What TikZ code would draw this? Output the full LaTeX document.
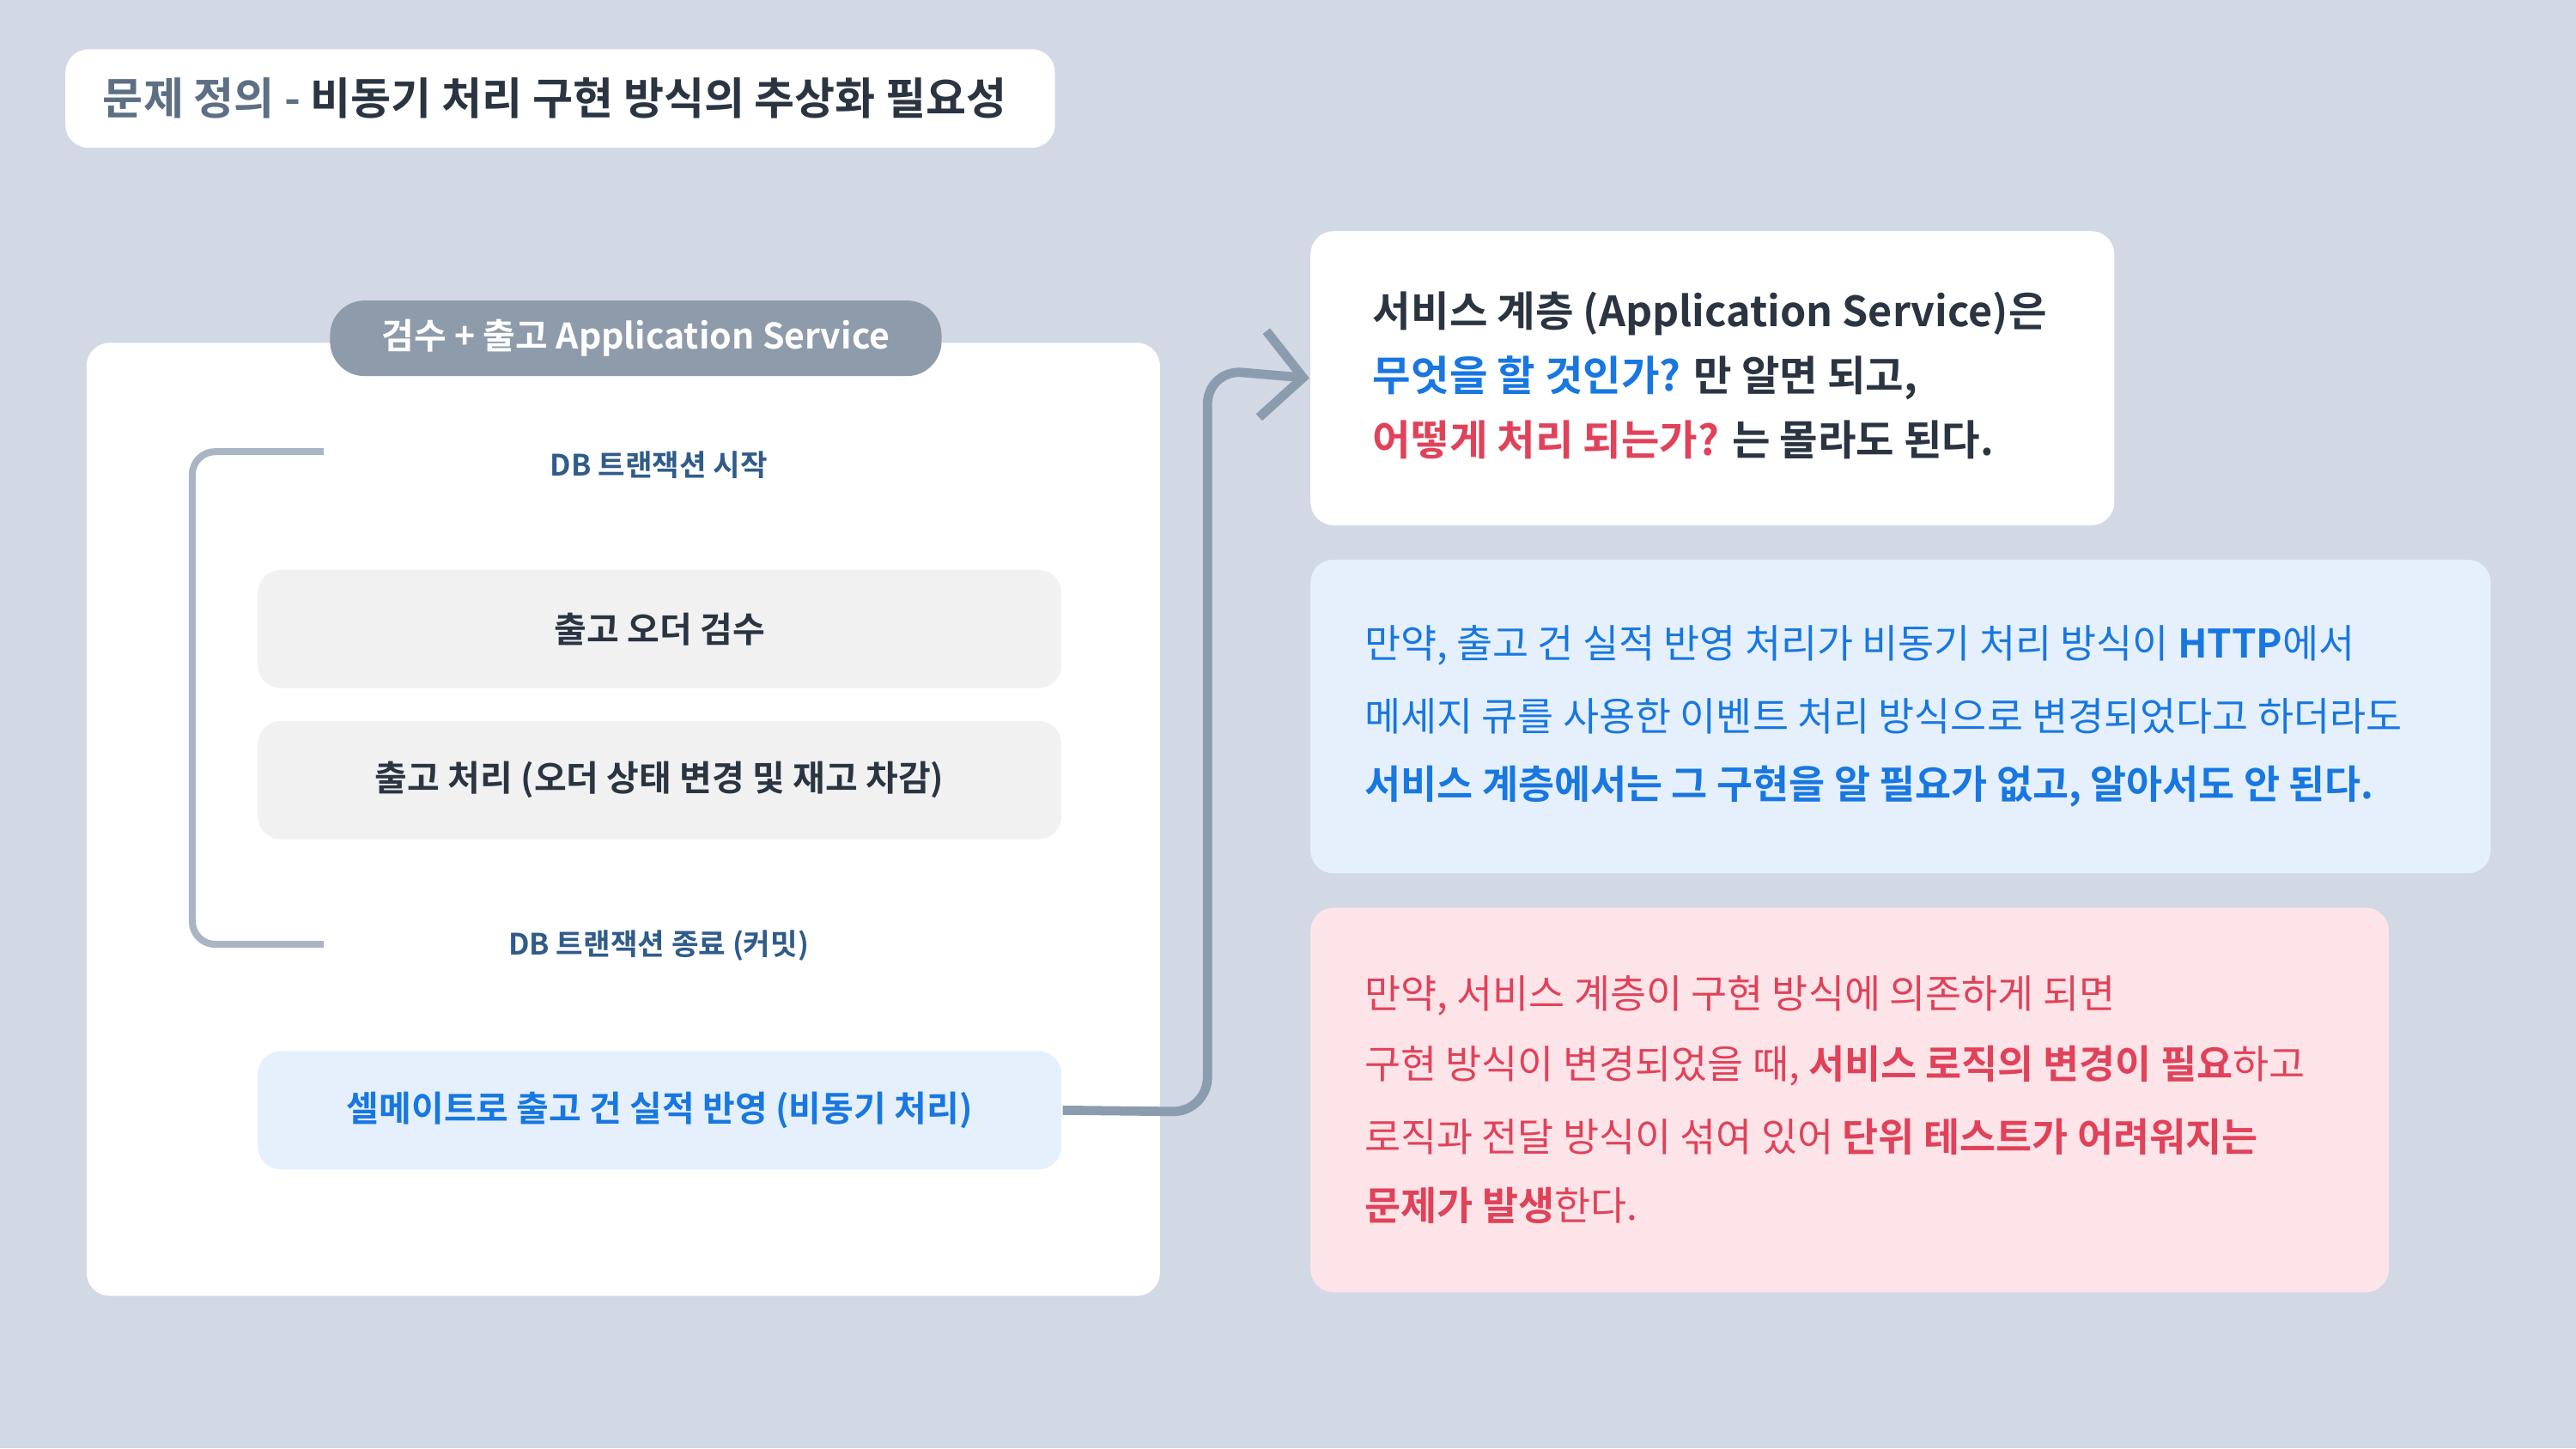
\documentclass[tikz,border=0pt]{standalone}
\usepackage{fontspec}
\setmainfont{Noto Sans CJK KR}[BoldFont={Noto Sans CJK KR Bold}]
\usetikzlibrary{arrows.meta}
\definecolor{bg}{HTML}{D3D8E5}
\definecolor{dark}{HTML}{2B3542}
\definecolor{greyb}{HTML}{5C6F84}
\definecolor{pill}{HTML}{8E9BAB}
\definecolor{brk}{HTML}{A9B5C4}
\definecolor{dbc}{HTML}{2F5C8A}
\definecolor{boxg}{HTML}{F1F1F2}
\definecolor{lblue}{HTML}{E5F0FC}
\definecolor{blu}{HTML}{1877E0}
\definecolor{lpink}{HTML}{FCE4E8}
\definecolor{redc}{HTML}{E0425A}
\definecolor{arr}{HTML}{8B9CAE}
\tikzset{
 card/.style={fill=white,rounded corners=4pt,draw=none},
 stepbox/.style={rounded corners=4pt,draw=none,minimum width=4.89cm,minimum height=0.72cm,font=\fontsize{6.1pt}{7pt}\bfseries\selectfont,text=dark},
 dblbl/.style={font=\fontsize{5.1pt}{6pt}\bfseries\selectfont,text=dbc},
 para/.style={anchor=west,inner sep=0pt,font=\fontsize{6.8pt}{8pt}\selectfont}
}
\begin{document}
\begin{tikzpicture}[x=0.01cm,y=-0.01cm]
\fill[bg] (0,0) rectangle (1568,882);
\useasboundingbox (0,0) rectangle (1568,882);
% title
\node[card,minimum width=6.02cm,minimum height=0.6cm] (title) at (341,60) {};
\node[anchor=west,inner sep=0pt,font=\fontsize{7.6pt}{8pt}\bfseries\selectfont] (titletxt) at (62,60) {\textcolor{greyb}{문제 정의 -} \textcolor{dark}{비동기 처리 구현 방식의 추상화 필요성}};
% left panel
\node[card,minimum width=6.53cm,minimum height=5.8cm,anchor=north west] (panel) at (52,208) {};
\node[fill=pill,rounded corners=6pt,minimum width=3.72cm,minimum height=0.45cm,text=white,font=\fontsize{6.1pt}{7pt}\bfseries\selectfont] (pilln) at (387,206) {검수 + 출고 Application Service};
\coordinate (b1) at (197,275);
\coordinate (b2) at (197,575);
\draw[brk,line width=1.2pt,rounded corners=4pt] (b1) -- (117,275) -- (117,575) -- (b2);
\node[dblbl] (dbs) at (401,283) {DB 트랜잭션 시작};
\node[stepbox,fill=boxg] (s1) at (401.5,383) {출고 오더 검수};
\node[stepbox,fill=boxg] (s2) at (401.5,475) {출고 처리 (오더 상태 변경 및 재고 차감)};
\node[dblbl] (dbe) at (401,576) {DB 트랜잭션 종료 (커밋)};
\node[stepbox,fill=lblue,text=blu] (s3) at (401.5,676) {셀메이트로 출고 건 실적 반영 (비동기 처리)};
% box A
\node[card,minimum width=4.89cm,minimum height=1.79cm,anchor=north west] (ba) at (797,140) {};
\node[para,font=\fontsize{7.2pt}{8pt}\bfseries\selectfont,text=dark] (a1) at (835,191) {서비스 계층 (Application Service)은};
\node[para,font=\fontsize{7.2pt}{8pt}\bfseries\selectfont,text=dark] (a2) at (835,230) {\textcolor{blu}{무엇을 할 것인가?} 만 알면 되고,};
\node[para,font=\fontsize{7.2pt}{8pt}\bfseries\selectfont,text=dark] (a3) at (835,268) {\textcolor{redc}{어떻게 처리 되는가?} 는 몰라도 된다.};
% arrow
\draw[arr,line width=1.6pt,rounded corners=6pt,-{Straight Barb[length=7pt,width=15pt,line width=1.6pt]}] (s3.east) -- (735,677) -- (735,225) -- (ba.west);
% box B
\node[fill=lblue,rounded corners=4pt,minimum width=7.18cm,minimum height=1.91cm,anchor=north west] (bb) at (797,340) {};
\node[para,text=blu] (b1t) at (830,393) {만약, 출고 건 실적 반영 처리가 비동기 처리 방식이 \textbf{HTTP}에서};
\node[para,text=blu] (b2t) at (830,436) {메세지 큐를 사용한 이벤트 처리 방식으로 변경되었다고 하더라도};
\node[para,text=blu,font=\fontsize{6.8pt}{8pt}\bfseries\selectfont] (b3t) at (830,479) {서비스 계층에서는 그 구현을 알 필요가 없고, 알아서도 안 된다.};
% box C
\node[fill=lpink,rounded corners=4pt,minimum width=6.56cm,minimum height=2.34cm,anchor=north west] (bc) at (797,552) {};
\node[para,text=redc] (c1) at (830,606) {만약, 서비스 계층이 구현 방식에 의존하게 되면};
\node[para,text=redc] (c2) at (830,649) {구현 방식이 변경되었을 때, \textbf{서비스 로직의 변경이 필요}하고};
\node[para,text=redc] (c3) at (830,692) {로직과 전달 방식이 섞여 있어 \textbf{단위 테스트가 어려워지는}};
\node[para,text=redc] (c4) at (830,734) {\textbf{문제가 발생}한다.};
\end{tikzpicture}
\end{document}
